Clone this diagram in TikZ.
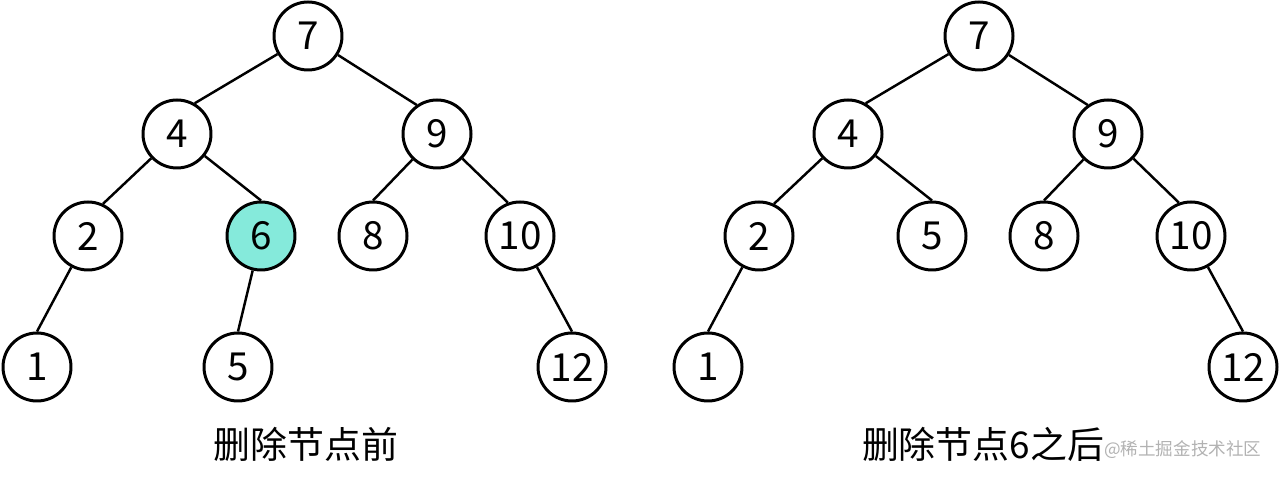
\documentclass[tikz,border=0pt]{standalone}
\usetikzlibrary{positioning}
\usepackage{fontspec}
\setmainfont{Noto Sans CJK SC}
\usepackage{xcolor}
\definecolor{delnode}{RGB}{133,234,219}
\definecolor{markgray}{RGB}{178,178,178}

\begin{document}
\begin{tikzpicture}[scale=1, transform shape, node distance = 2cm, auto]
    \useasboundingbox (0,0) rectangle (25.6,-9.54);
    % Draw the tree nodes
    \tikzstyle{key}       = [circle, minimum size = 1.36cm, inner sep = 0pt, text centered, draw = black, line width = 1.7pt, fill = white, font = \fontsize{22}{26}\selectfont]
    \tikzstyle{removed}   = [key, fill = delnode]
    \tikzstyle{subtitle}  = [text centered, font = \fontsize{21}{25}\selectfont]
    \tikzstyle{watermark} = [anchor = west, text = markgray, font = \fontsize{10}{12}\selectfont]
    \tikzstyle{branch}    = [line width = 1.4pt]

    % before deleting
    \node[key] (L7) at (6.16,-0.72) {7};
    \node[key, below of = L7, xshift = -2.62cm, yshift = +0.04cm] (L4) {4};
    \node[key, below of = L7, xshift = +2.58cm, yshift = +0.04cm] (L9) {9};
    \node[key, below of = L4, xshift = -1.78cm, yshift = -0.04cm] (L2) {2};
    \node[removed, below of = L4, xshift = +1.68cm, yshift = -0.04cm] (L6) {6};
    \node[key, below of = L9, xshift = -1.28cm, yshift = -0.04cm] (L8) {8};
    \node[key, below of = L9, xshift = +1.66cm, yshift = -0.04cm] (L10) {10};
    \node[key, below of = L2, xshift = -1.02cm, yshift = -0.62cm] (L1) {1};
    \node[key, below of = L6, xshift = -0.46cm, yshift = -0.62cm] (L5) {5};
    \node[key, below of = L10, xshift = +1.04cm, yshift = -0.62cm] (L12) {12};

    \node[subtitle] (before) at (6.12,-8.88) {删除节点前};

    % after deleting
    \node[key] (R7) at (19.58,-0.72) {7};
    \node[key, below of = R7, xshift = -2.62cm, yshift = +0.04cm] (R4) {4};
    \node[key, below of = R7, xshift = +2.58cm, yshift = +0.04cm] (R9) {9};
    \node[key, below of = R4, xshift = -1.78cm, yshift = -0.04cm] (R2) {2};
    \node[key, below of = R4, xshift = +1.68cm, yshift = -0.04cm] (R5) {5};
    \node[key, below of = R9, xshift = -1.28cm, yshift = -0.04cm] (R8) {8};
    \node[key, below of = R9, xshift = +1.66cm, yshift = -0.04cm] (R10) {10};
    \node[key, below of = R2, xshift = -1.02cm, yshift = -0.62cm] (R1) {1};
    \node[key, below of = R10, xshift = +1.04cm, yshift = -0.62cm] (R12) {12};

    \node[subtitle] (after) at (19.66,-8.88) {删除节点6之后};
    \node[watermark] (wm) at (21.96,-9.0) {@稀土掘金技术社区};

    \draw[branch] (L7) -- (L4.60);
    \draw[branch] (L7) -- (L9.125);
    \draw[branch] (L4) -- (L2.65);
    \draw[branch] (L4) -- (L6.north);
    \draw[branch] (L9) -- (L8.north);
    \draw[branch] (L9) -- (L10.110);
    \draw[branch] (L2) -- (L1.north);
    \draw[branch] (L6) -- (L5.north);
    \draw[branch] (L10) -- (L12.north);

    \draw[branch] (R7) -- (R4.60);
    \draw[branch] (R7) -- (R9.125);
    \draw[branch] (R4) -- (R2.65);
    \draw[branch] (R4) -- (R5.north);
    \draw[branch] (R9) -- (R8.north);
    \draw[branch] (R9) -- (R10.110);
    \draw[branch] (R2) -- (R1.north);
    \draw[branch] (R10) -- (R12.north);
  \end{tikzpicture}
\end{document}
